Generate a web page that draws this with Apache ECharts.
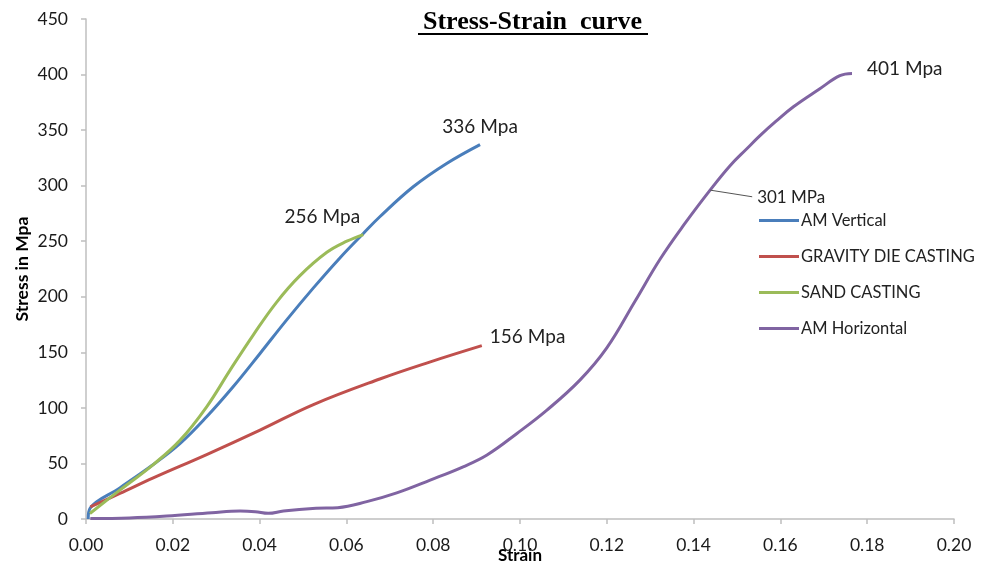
<!DOCTYPE html>
<html>
<head>
<meta charset="utf-8">
<script src="https://cdn.jsdelivr.net/npm/echarts@6/dist/echarts.min.js"></script>
<style>html,body{margin:0;padding:0;background:#fff}#c{width:988px;height:567px}</style>
</head>
<body>
<div id="c"></div>
<script>
// [strain, stress] pairs
var amVertical = [[0.0005,0],[0.001,10],[0.0078,28],[0.0155,49],[0.0217,68],[0.0278,92],[0.0339,119],[0.0401,149],[0.0462,179],[0.0524,208],[0.0585,235],[0.0639,257],[0.0677,272],[0.0754,299],[0.0831,320],[0.0908,337]];
var gravityDie = [[0.001,11],[0.0078,23],[0.0155,37],[0.0278,58],[0.0401,80],[0.0524,103],[0.0677,126],[0.079,141],[0.0912,156]];
var sandCasting = [[0.0009,5],[0.0078,26],[0.0155,49],[0.0217,71],[0.0278,101],[0.0332,134],[0.0386,166],[0.0439,195],[0.0493,219],[0.0555,240],[0.0601,250],[0.0639,256]];
var amHorizontal = [[0.001,0.5],[0.01,1],[0.0186,2.7],[0.029,5.7],[0.0355,7.2],[0.039,6.6],[0.042,5.1],[0.0455,7.2],[0.053,9.6],[0.058,10.2],[0.0647,15.6],[0.0716,23.5],[0.0793,35],[0.0869,47],[0.0924,57.6],[0.0993,77],[0.1062,98],[0.1138,125],[0.12,154],[0.1265,196],[0.1323,234],[0.138,266],[0.1438,296],[0.1484,318],[0.1522,333],[0.1553,345],[0.159,358],[0.163,371],[0.169,387],[0.1737,399],[0.1765,401]];
var seriesNames = ['AM Vertical','GRAVITY DIE CASTING','SAND CASTING','AM Horizontal'];
var seriesColors = ['#4A7EBB','#C0504D','#9BBB59','#8064A2'];
var endLabels = ['336 Mpa','156 Mpa','256 Mpa','401 Mpa'];
var calloutText = '301 MPa';
var calloutFrom = [0.1438, 296];
var calloutTo = [0.1535, 290];
var xTicks = {min:0, max:0.2, interval:0.02};
var yTicks = {min:0, max:450, interval:50};

var chart = echarts.init(document.getElementById('c'));
var allData = [amVertical, gravityDie, sandCasting, amHorizontal];
var labelPos = [
  {position:'top', offset:[0,-3]},
  {position:'right', offset:[3,-9]},
  {position:'top', offset:[-41,-3]},
  {position:'right', offset:[10,-5]}
];
var series = allData.map(function(d,i){
  var last = d[d.length-1];
  var s = {
    name: seriesNames[i], type:'line', data:d, showSymbol:false, smooth:0.4,
    lineStyle:{width:3, color:seriesColors[i]}, itemStyle:{color:seriesColors[i]},
    animation:false,
    markPoint:{
      symbol:'circle', symbolSize:0, silent:true, animation:false,
      data:[{coord:last, label:{show:true, formatter:endLabels[i], position:labelPos[i].position, offset:labelPos[i].offset,
        fontFamily:'Lato', fontSize:19, color:'#222'}}]
    }
  };
  if(i===3){
    s.markLine = {
      symbol:['none','none'], silent:true, animation:false,
      lineStyle:{color:'#555', width:1, type:'solid'},
      label:{show:true, position:'end', formatter:calloutText, fontFamily:'Lato', fontSize:17, color:'#222', distance:5},
      data:[[{coord:calloutFrom},{coord:calloutTo}]]
    };
  }
  return s;
});

chart.setOption({
  backgroundColor:'#fff',
  animation:false,
  title:{text:'Stress-Strain  curve', left:418, top:4,
    textStyle:{fontFamily:'Liberation Serif', fontWeight:'bold', fontSize:26, color:'#000'}},
  graphic:[{type:'line', shape:{x1:418, y1:34, x2:648, y2:34}, style:{stroke:'#000', lineWidth:2}}],
  legend:{orient:'vertical', left:754, top:207, itemWidth:40, itemHeight:3, itemGap:19, icon:'rect',
    data:seriesNames, textStyle:{fontFamily:'Lato', fontSize:16.5, color:'#222', padding:[0,0,0,-3]}},
  grid:{left:86, right:34, top:19, bottom:48, containLabel:false, outerBoundsMode:'none'},
  xAxis:{type:'value', min:xTicks.min, max:xTicks.max, interval:xTicks.interval,
    name:'Strain', nameLocation:'middle', nameGap:28, nameMoveOverlap:false,
    nameTextStyle:{fontFamily:'Lato', fontWeight:'bold', fontSize:17, color:'#000'},
    axisLine:{show:true, lineStyle:{color:'#BFBFBF', width:1.5}},
    axisTick:{show:true, length:5, lineStyle:{color:'#BFBFBF', width:1.5}},
    splitLine:{show:false},
    axisLabel:{margin:17, fontFamily:'Lato', fontSize:17.5, color:'#1a1a1a', formatter:function(v){return v.toFixed(2);}}},
  yAxis:{type:'value', min:yTicks.min, max:yTicks.max, interval:yTicks.interval,
    name:'Stress in Mpa', nameLocation:'middle', nameGap:55, nameRotate:90, nameMoveOverlap:false,
    nameTextStyle:{fontFamily:'Lato', fontWeight:'bold', fontSize:17.5, color:'#000'},
    axisLine:{show:true, lineStyle:{color:'#BFBFBF', width:1.5}},
    axisTick:{show:true, length:5, lineStyle:{color:'#BFBFBF', width:1.5}},
    splitLine:{show:false},
    axisLabel:{margin:18, fontFamily:'Lato', fontSize:17.5, color:'#1a1a1a'}},
  series:series
});
</script>
</body>
</html>
